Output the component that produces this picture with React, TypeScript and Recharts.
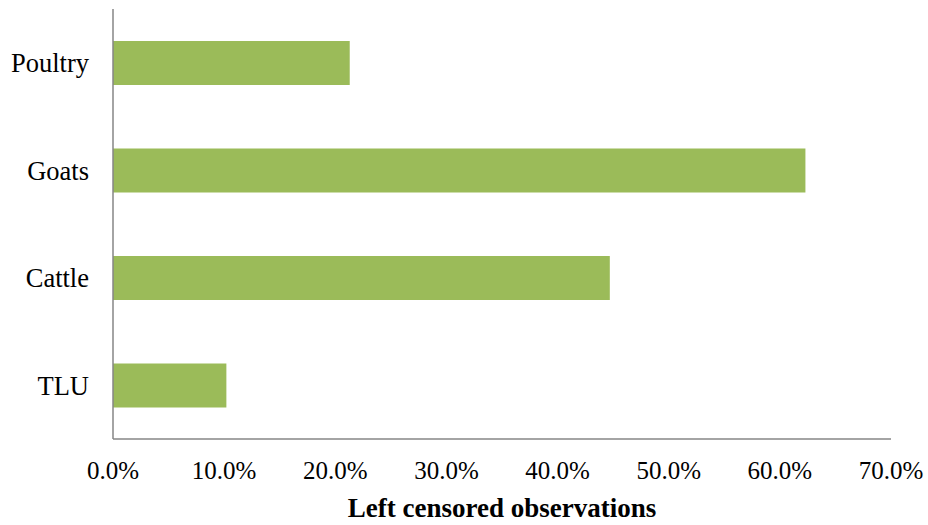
import React from 'react';
import { BarChart, Bar, XAxis, YAxis } from 'recharts';

const categories = ['Poultry', 'Goats', 'Cattle', 'TLU'];
const values = [21.3, 62.3, 44.7, 10.2];
const xTicks = [0, 10, 20, 30, 40, 50, 60, 70];

const data = categories.map((c, i) => ({ name: c, value: values[i] }));

const font = '"Liberation Serif", "Times New Roman", serif';

export default function App() {
  return (
    <div style={{ position: 'absolute', left: 0, top: 0, width: 928, height: 525, background: '#fff' }}>
      <BarChart
        width={928}
        height={525}
        data={data}
        layout="vertical"
        margin={{ top: 9, right: 37, bottom: 0, left: 0 }}
        barCategoryGap={32}
      >
        <XAxis
          type="number"
          domain={[0, 70]}
          ticks={xTicks}
          tickFormatter={(v: number) => v.toFixed(1) + '%'}
          tickSize={0}
          tickMargin={22}
          height={86}
          axisLine={{ stroke: '#868686', strokeWidth: 1.5 }}
          tickLine={false}
          tick={{ fill: '#000', fontSize: 25, fontFamily: font }}
          label={{
            value: 'Left censored observations',
            position: 'insideBottom',
            offset: 8,
            style: { fill: '#000', fontSize: 27, fontWeight: 'bold', fontFamily: font },
          }}
        />
        <YAxis
          type="category"
          dataKey="name"
          width={113}
          tickSize={0}
          tickMargin={24}
          axisLine={{ stroke: '#868686', strokeWidth: 1.5 }}
          tickLine={false}
          tick={{ fill: '#000', fontSize: 26.5, fontFamily: font }}
        />
        <Bar dataKey="value" fill="#9BBB59" isAnimationActive={false} />
      </BarChart>
    </div>
  );
}
